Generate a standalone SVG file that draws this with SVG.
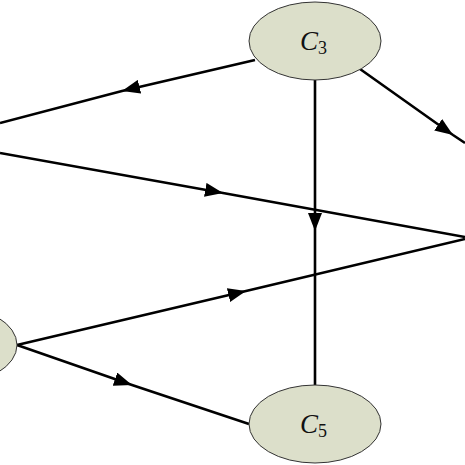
<svg xmlns="http://www.w3.org/2000/svg" width="465" height="465" viewBox="0 0 465 465">
<style>
.node{fill:#dcdfca;stroke:#333;stroke-width:1}
.edge{fill:none;stroke:#000;stroke-width:2.6;marker-mid:url(#arr)}
.lbl{font-family:"Liberation Serif",serif;font-size:27px;font-style:italic;fill:#111}
.sub{font-style:normal;font-size:18px}
</style>
<defs>
<marker id="arr" viewBox="0 0 18 14" refX="18" refY="7" markerWidth="18" markerHeight="14" markerUnits="userSpaceOnUse" orient="auto">
<path d="M0,0 L18,7 L0,14 Z" fill="#000"/>
</marker>
</defs>
<rect width="465" height="465" fill="#fff"/>
<g id="connectors">
<path class="edge" d="M255,60 L122,91 L0,123"/>
<path class="edge" d="M0,153 L223,193 L465,237"/>
<path class="edge" d="M315,80 L315,231 L315,385"/>
<path class="edge" d="M360,69 L453,135 L465,143"/>
<path class="edge" d="M17,345 L246,291 L465,239"/>
<path class="edge" d="M17,345 L132,385 L249,424"/>
</g>
<g id="C3">
<ellipse class="node" cx="315" cy="41" rx="66" ry="39"/>
<text class="lbl" x="300" y="50">C<tspan class="sub" dy="4">3</tspan></text>
</g>
<g id="C5">
<ellipse class="node" cx="315" cy="424" rx="66" ry="39"/>
<text class="lbl" x="300" y="433">C<tspan class="sub" dy="4">5</tspan></text>
</g>
<g id="left-node">
<ellipse class="node" cx="-49" cy="345" rx="66" ry="39"/>
</g>
</svg>
